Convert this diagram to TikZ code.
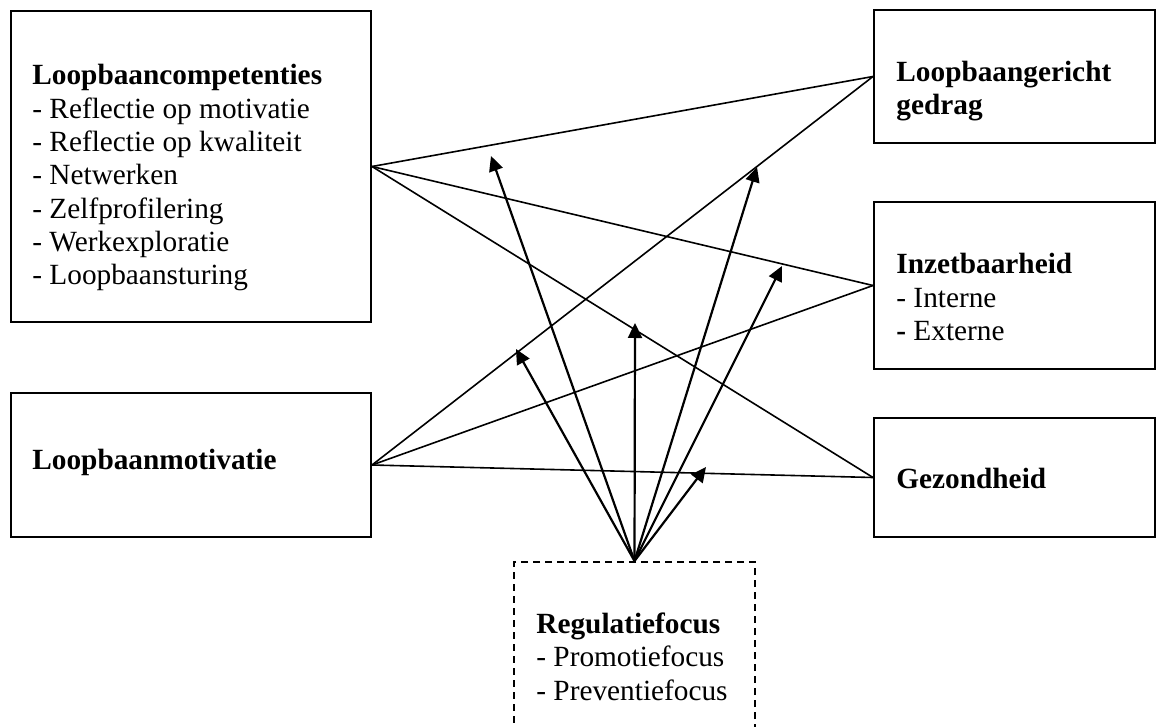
\documentclass[tikz,border=0pt]{standalone}
\usepackage{fontspec}
\setmainfont{Liberation Serif}
\usetikzlibrary{arrows.meta}
\begin{document}
\begin{tikzpicture}[x=0.5pt,y=-0.5pt,
  box/.style={draw, line width=1pt, inner sep=0pt},
  dbox/.style={draw, line width=1pt, inner sep=0pt, dash pattern=on 3.5pt off 2.5pt},
  txt/.style={anchor=base west, inner sep=0pt, font=\fontsize{14.65pt}{16.65pt}\selectfont},
  link/.style={line width=0.8pt},
  modarrow/.style={line width=1.1pt, -{Triangle[length=7.5pt,width=7pt]}}]
\useasboundingbox (0,0) rectangle (1156,727);
\clip (0,0) rectangle (1156,727);
\fill[white] (0,0) rectangle (1156,727);
% boxes
\node[box, minimum width=180pt, minimum height=155.5pt] (comp) at (191,166.5) {};
\node[box, minimum width=180pt, minimum height=72pt] (mot) at (191,465) {};
\node[box, minimum width=140.5pt, minimum height=66.5pt] (loop) at (1014.5,76.5) {};
\node[box, minimum width=140.5pt, minimum height=83.5pt] (inzet) at (1014.5,285.5) {};
\node[box, minimum width=140.5pt, minimum height=59.5pt] (gez) at (1014.5,477.5) {};
\node[dbox, minimum width=120.5pt, minimum height=114pt] (reg) at (634.5,676) {};
% texts
\node[txt] (c0) at (32,85) {\textbf{Loopbaancompetenties}};
\node[txt] (c1) at (32,118.3) {- Reflectie op motivatie};
\node[txt] (c2) at (32,151.7) {- Reflectie op kwaliteit};
\node[txt] (c3) at (32,185) {- Netwerken};
\node[txt] (c4) at (32,218.3) {- Zelfprofilering};
\node[txt] (c5) at (32,251.7) {- Werkexploratie};
\node[txt] (c6) at (32,285) {- Loopbaansturing};
\node[txt] (m0) at (32,469) {\textbf{Loopbaanmotivatie}};
\node[txt] (l0) at (896,82) {\textbf{Loopbaangericht}};
\node[txt] (l1) at (896,115) {\textbf{gedrag}};
\node[txt] (i0) at (896,274) {\textbf{Inzetbaarheid}};
\node[txt] (i1) at (896,307) {- Interne};
\node[txt] (i2) at (896,340) {\textbf{-} Externe};
\node[txt] (g0) at (896,488) {\textbf{Gezondheid}};
\node[txt] (r0) at (536,633) {\textbf{Regulatiefocus}};
\node[txt] (r1) at (536,666) {- Promotiefocus};
\node[txt] (r2) at (536,700) {- Preventiefocus};
% links
\draw[link] (comp.east) -- (loop.west);
\draw[link] (comp.east) -- (inzet.west);
\draw[link] (comp.east) -- (gez.west);
\draw[link] (mot.east) -- (loop.west);
\draw[link] (mot.east) -- (inzet.west);
\draw[link] (mot.east) -- (gez.west);
% moderation arrows
\coordinate (t1) at (491,156);
\coordinate (t2) at (516,349);
\coordinate (t3) at (635,323);
\coordinate (t4) at (757,167);
\coordinate (t5) at (782,266);
\coordinate (t6) at (706,467);
\foreach \t in {t1,t2,t3,t4,t5,t6}
  \draw[modarrow] (reg.north) -- (\t);
\end{tikzpicture}
\end{document}
